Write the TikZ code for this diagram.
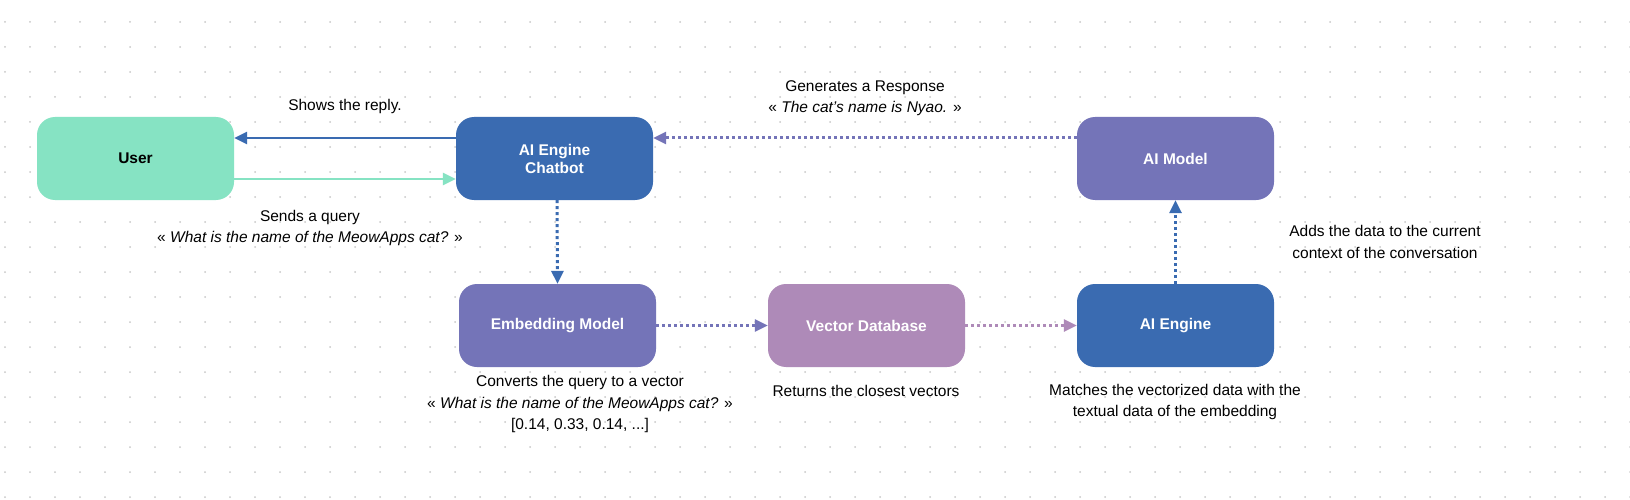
\documentclass[tikz,border=0pt]{standalone}
\usepackage{fontspec}
\setmainfont{Liberation Sans}
\usetikzlibrary{arrows.meta}
\definecolor{cgreen}{HTML}{86E3C3}
\definecolor{cblue}{HTML}{3A6BB1}
\definecolor{cpurp}{HTML}{7474B8}
\definecolor{cpink}{HTML}{AE8AB8}
\definecolor{cdot}{HTML}{C8C8C8}
\begin{document}
\begin{tikzpicture}[x=1pt,y=-1pt,
  box/.style={rounded corners=18pt,minimum width=197pt,minimum height=83pt,inner sep=0,text=white,font=\fontsize{15.5}{18}\selectfont\bfseries,align=center},
  lab/.style={font=\fontsize{15.5}{21.5}\selectfont,align=center},
  sol/.style={line width=2.8pt,-{Triangle[length=13pt,width=12pt]}},
  dot/.style={line width=3pt,dash pattern=on 3pt off 3pt,-{Triangle[length=13pt,width=12pt]}}]
\useasboundingbox (0,0) rectangle (1630,500);
\fill[white] (0,0) rectangle (1630,500);
\foreach \i in {0,...,65} \foreach \j in {0,...,19} \fill[cdot] (5+25*\i,22+25*\j) circle (1pt);
\node[box,fill=cgreen,text=black] (user) at (135.5,158.5) {User};
\node[box,fill=cblue] (chat) at (554.5,158.5) {AI Engine\\Chatbot};
\node[box,fill=cpurp] (model) at (1175.5,158.5) {AI Model};
\node[box,fill=cpurp] (emb) at (557.5,325.5) {Embedding Model};
\node[box,fill=cpink] (vec) at (866.5,325.5) {Vector Database};
\node[box,fill=cblue] (eng) at (1175.5,325.5) {AI Engine};
\draw[sol,cblue] (chat.west|-0,138) -- (user.east|-0,138);
\draw[sol,cgreen] (user.east|-0,179) -- (chat.west|-0,179);
\draw[dot,cpurp] (model.west|-0,138) -- (chat.east|-0,138);
\draw[dot,cblue] (chat.south-|557,0) -- (emb.north);
\draw[dot,cpurp] (emb) -- (vec);
\draw[dot,cpink] (vec) -- (eng);
\draw[dot,cblue] (eng) -- (model);
\node[lab] (l1) at (345,106) {Shows the reply.};
\node[lab] (l2) at (310,228) {Sends a query\\« \textit{What is the name of the MeowApps cat?} »};
\node[lab] (l3) at (865,98) {Generates a Response\\« \textit{The cat's name is Nyao.} »};
\node[lab] (l4) at (1385,242) {Adds the data to the current\\context of the conversation};
\node[lab] (l5) at (580,404) {Converts the query to a vector\\« \textit{What is the name of the MeowApps cat?} »\\{}[0.14, 0.33, 0.14, ...]};
\node[lab] (l6) at (866,391) {Returns the closest vectors};
\node[lab] (l7) at (1175,402) {Matches the vectorized data with the\\textual data of the embedding};
\end{tikzpicture}
\end{document}
